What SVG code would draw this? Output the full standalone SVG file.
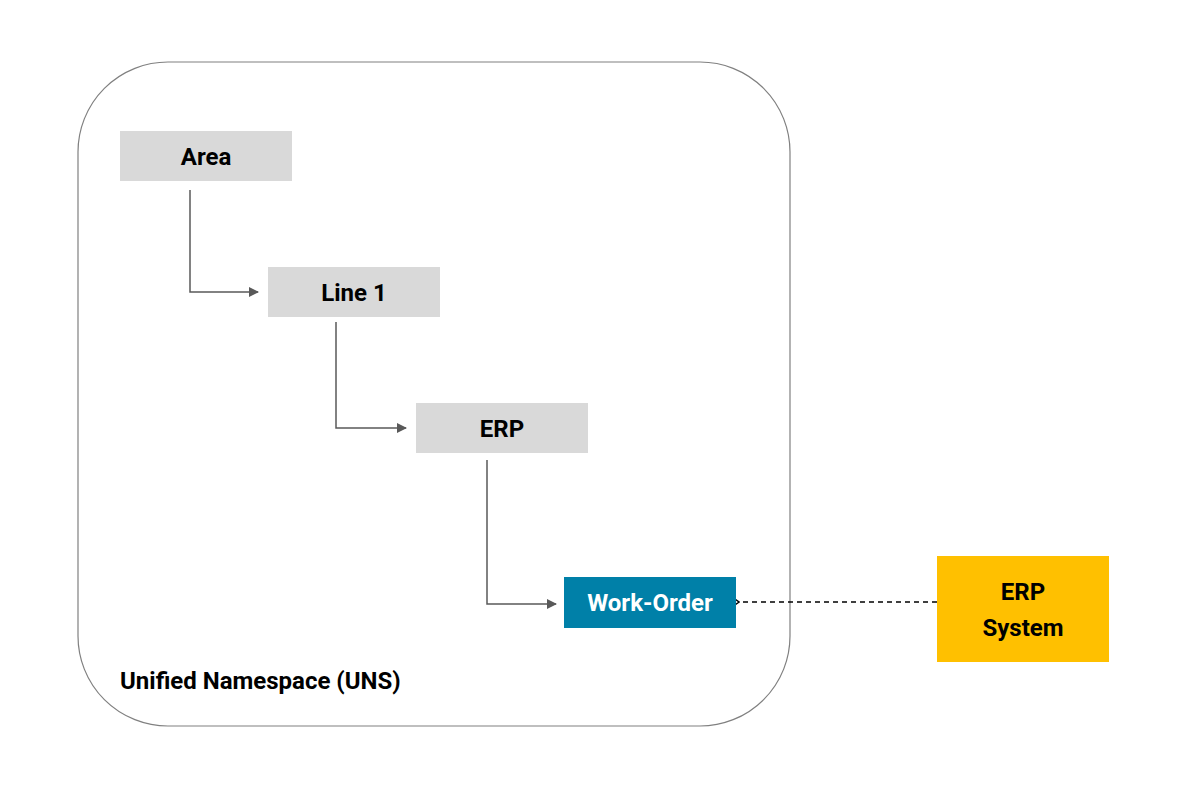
<svg xmlns="http://www.w3.org/2000/svg" width="1200" height="792" viewBox="0 0 1200 792">
<style>
.n{fill:#d9d9d9}
.t{font-family:Roboto,"Liberation Sans",sans-serif;font-weight:bold;font-size:24px;fill:#000;text-anchor:middle}
.c{fill:none;stroke:#595959;stroke-width:1.5}
</style>
<defs>
<marker id="a" markerWidth="10" markerHeight="10" refX="9" refY="5" orient="auto" markerUnits="userSpaceOnUse"><path d="M0,0L10,5L0,10z" fill="#595959"/></marker>
<marker id="o" markerWidth="10" markerHeight="12" refX="1" refY="6" orient="auto-start-reverse" markerUnits="userSpaceOnUse"><path d="M8,1L1,6L8,11" fill="none" stroke="#000" stroke-width="1.5"/></marker>
</defs>
<rect width="1200" height="792" fill="#fff"/>
<g id="uns"><rect x="78" y="62" width="712" height="664" rx="90" fill="none" stroke="#808080" stroke-width="1.2"/>
<text x="120" y="689" class="t" style="text-anchor:start">Unified Namespace (UNS)</text></g>
<g id="connectors">
<path class="c" d="M190,190V292H258" marker-end="url(#a)"/>
<path class="c" d="M336,322V428H406" marker-end="url(#a)"/>
<path class="c" d="M487,460V604H556" marker-end="url(#a)"/>
<path d="M937,602H739" fill="none" stroke="#000" stroke-width="1.5" stroke-dasharray="5,4" marker-end="url(#o)"/>
</g>
<g id="area"><rect class="n" x="120" y="131" width="172" height="50"/><text class="t" x="206" y="165">Area</text></g>
<g id="line1"><rect class="n" x="268" y="267" width="172" height="50"/><text class="t" x="354" y="301">Line 1</text></g>
<g id="erp"><rect class="n" x="416" y="403" width="172" height="50"/><text class="t" x="502" y="437">ERP</text></g>
<g id="workorder"><rect x="564" y="577" width="172" height="51" fill="#0080a8"/><text class="t" x="650" y="611" style="fill:#fff">Work-Order</text></g>
<g id="erpsystem"><rect x="937" y="556" width="172" height="106" fill="#ffc000"/><text class="t" x="1023" y="600">ERP</text><text class="t" x="1023" y="636">System</text></g>
</svg>
